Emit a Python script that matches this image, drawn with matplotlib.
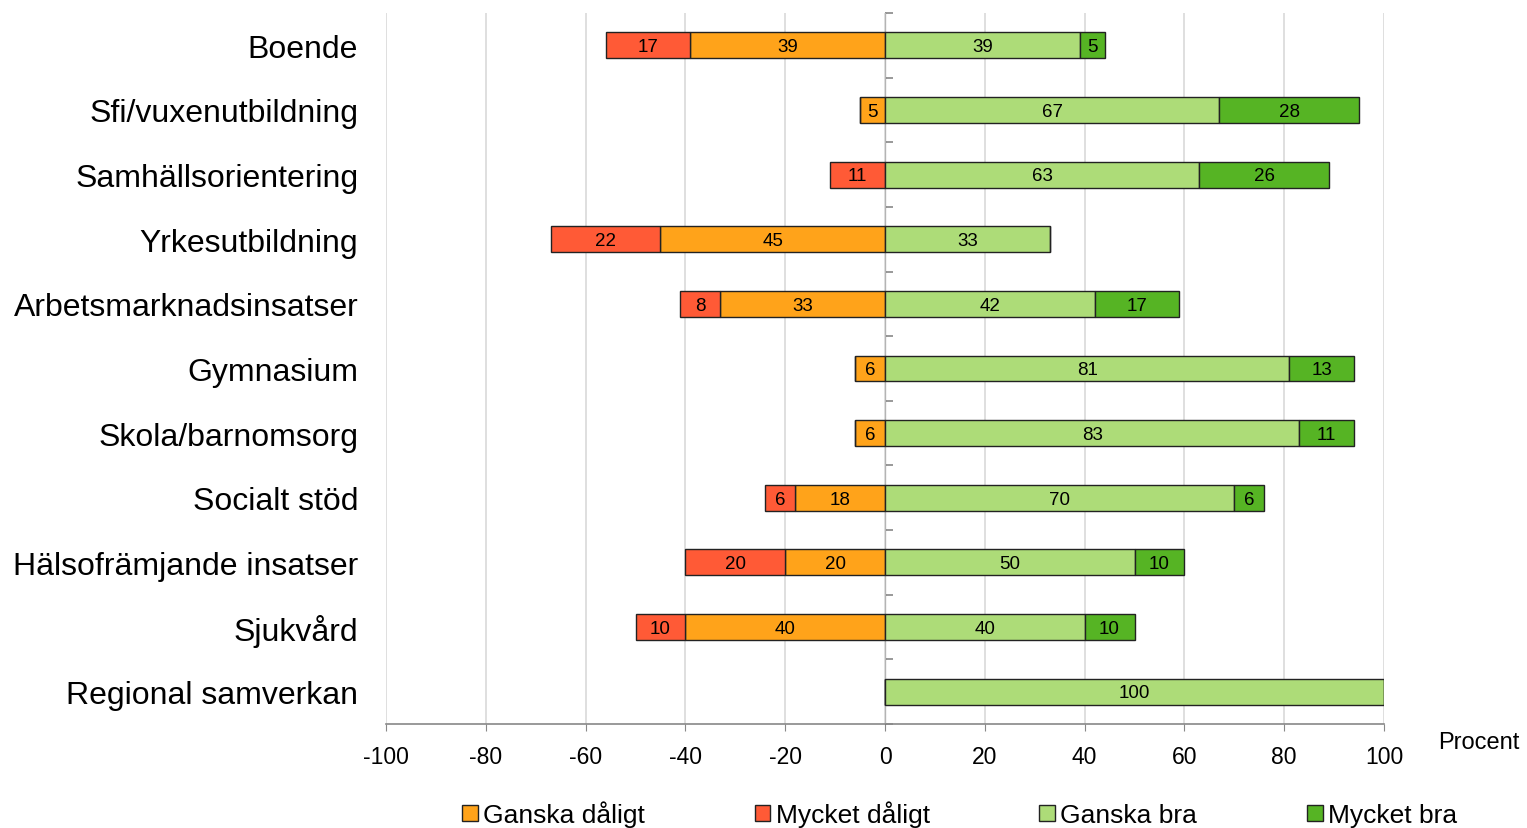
import numpy as np
import matplotlib.pyplot as plt

plt.rcParams['font.family'] = ['Liberation Sans', 'DejaVu Sans']
plt.rcParams['axes.unicode_minus'] = False

categories = ['Boende', 'Sfi/vuxenutbildning', 'Samhällsorientering', 'Yrkesutbildning',
              'Arbetsmarknadsinsatser', 'Gymnasium', 'Skola/barnomsorg', 'Socialt stöd',
              'Hälsofrämjande insatser', 'Sjukvård', 'Regional samverkan']
ganska_daligt = [39, 5, 0, 45, 33, 6, 6, 18, 20, 40, 0]
mycket_daligt = [17, 0, 11, 22, 8, 0, 0, 6, 20, 10, 0]
ganska_bra = [39, 67, 63, 33, 42, 81, 83, 70, 50, 40, 100]
mycket_bra = [5, 28, 26, 0, 17, 13, 11, 6, 10, 10, 0]

c_gd = '#FFA31A'
c_md = '#FF5A36'
c_gb = '#ADDC78'
c_mb = '#56B424'

fig = plt.figure(figsize=(15.27, 8.29), dpi=100)
ax = fig.add_axes([386 / 1527, 1 - 725 / 829, 998 / 1527, 711 / 829])

y = np.arange(len(categories))
gd = np.array(ganska_daligt)
md = np.array(mycket_daligt)
gb = np.array(ganska_bra)
mb = np.array(mycket_bra)

h = 0.4
kw = dict(height=h, edgecolor='#222222', linewidth=1, zorder=3)
b_gd = ax.barh(y, -gd, left=0, color=c_gd, label='Ganska dåligt', **kw)
b_md = ax.barh(y, -md, left=-gd, color=c_md, label='Mycket dåligt', **kw)
b_gb = ax.barh(y, gb, left=0, color=c_gb, label='Ganska bra', **kw)
b_mb = ax.barh(y, mb, left=gb, color=c_mb, label='Mycket bra', **kw)

for bars, vals in [(b_gd, gd), (b_md, md), (b_gb, gb), (b_mb, mb)]:
    for rect, v in zip(bars, vals):
        if v == 0:
            continue
        cx = rect.get_x() + rect.get_width() / 2
        cy = rect.get_y() + rect.get_height() / 2
        ax.text(cx, cy + 0.02, str(v), ha='center', va='center', fontsize=13.5, zorder=4)

ax.set_xlim(-100, 100)
ax.set_ylim(len(categories) - 0.5, -0.5)
ax.set_xticks(np.arange(-100, 101, 20))
ax.tick_params(axis='x', labelsize=16.5, length=5, color='#888888', pad=10)
ax.set_yticks(y)
ax.set_yticklabels(categories, fontsize=23)
ax.tick_params(axis='y', length=0, pad=20)
ax.grid(axis='x', color='#d9d9d9', linewidth=1.2, zorder=0)

for s in ['top', 'right', 'left']:
    ax.spines[s].set_visible(False)
ax.spines['bottom'].set_color('#888888')
ax.spines['bottom'].set_linewidth(1.2)

# center axis with category separator ticks
sec = ax.secondary_yaxis(0.5)
sec.set_yticks(np.arange(-0.5, len(categories), 1.0))
sec.set_yticklabels([])
sec.tick_params(length=6, color='#888888', width=1.2)
sec.spines['left'].set_color('#888888')
sec.spines['left'].set_linewidth(1.2)

fig.text(1438 / 1527, 1 - 743 / 829, 'Procent', fontsize=17, ha='left', va='center')

handles = [b_gd, b_md, b_gb, b_mb]
fig.legend(handles, [hh.get_label() for hh in handles], loc='center left',
           bbox_to_anchor=(462 / 1527, 1 - 815 / 829),
           ncol=4, frameon=False, fontsize=19, handlelength=0.6, handleheight=0.6,
           handletextpad=0.2, columnspacing=4.15, borderpad=0, borderaxespad=0)

fig.savefig('out.png', dpi=100)
